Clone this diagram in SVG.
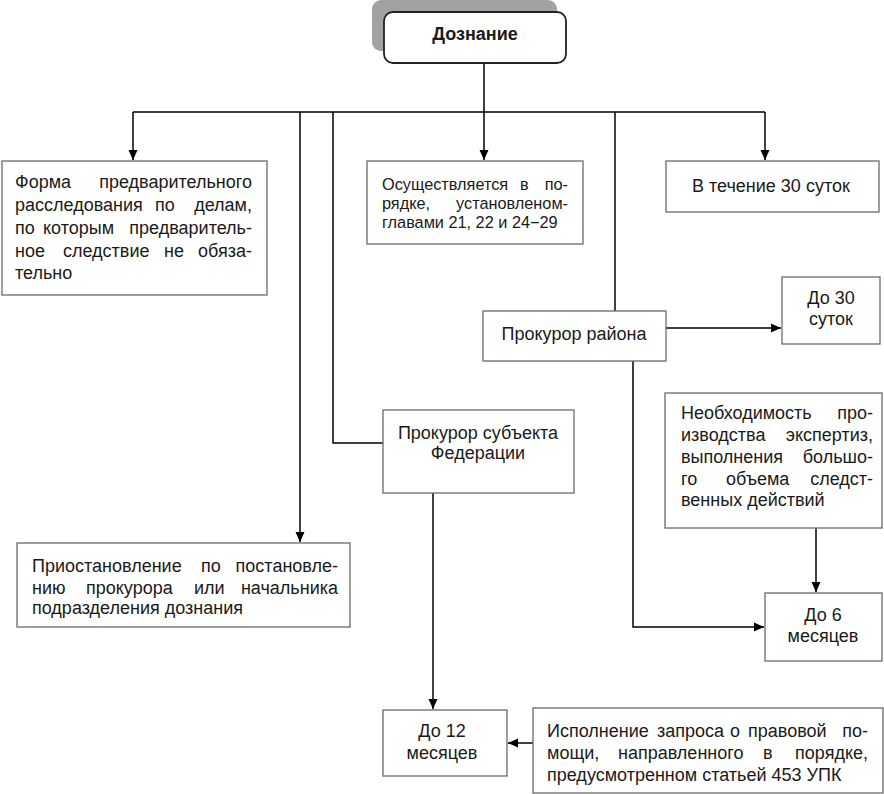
<svg xmlns="http://www.w3.org/2000/svg" width="884" height="794" viewBox="0 0 884 794">
<defs>
<marker id="ah" viewBox="0 0 10 10" refX="10" refY="5" markerWidth="10" markerHeight="10" markerUnits="userSpaceOnUse" orient="auto">
<path d="M0,0.5 L10,5 L0,9.5 Z" fill="#000"/>
</marker>
<style>
.box{fill:#fff;stroke:#6a6a6a;stroke-width:1.3}
.t{font-family:"Liberation Sans",Arial,sans-serif;font-size:18px;fill:#1a1a1a}
.s{font-size:16.3px}
.c{text-anchor:middle}
.e{text-anchor:end}
.ln{fill:none;stroke:#000;stroke-width:1.5}
.ar{marker-end:url(#ah)}
</style>
</defs>
<rect width="884" height="794" fill="#fff"/>
<g id="connectors">
<path class="ln" d="M484,63 V112"/>
<path class="ln" d="M133,112 H765"/>
<path class="ln ar" d="M133,112 V160"/>
<path class="ln ar" d="M484,112 V160"/>
<path class="ln ar" d="M765,112 V160"/>
<path class="ln ar" d="M300,112 V542"/>
<path class="ln" d="M333,112 V443 H383"/>
<path class="ln" d="M615,112 V311"/>
<path class="ln ar" d="M666,328 H781"/>
<path class="ln ar" d="M633,361 V627 H764"/>
<path class="ln ar" d="M816,528 V592"/>
<path class="ln ar" d="M433,493 V709"/>
<path class="ln ar" d="M533,743 H508"/>
</g>
<g id="n-doznanie">
<rect x="372" y="0" width="185" height="51" rx="9" fill="#a2a2a2"/>
<rect x="384" y="12" width="182" height="51" rx="9" fill="#fff" stroke="#222" stroke-width="1.8"/>
<text class="t c" x="475" y="40" font-weight="bold" font-size="19.5">Дознание</text>
</g>
<g id="n-forma">
<rect class="box" x="2" y="161" width="265" height="134"/>
<text class="t" y="188"><tspan x="15">Форма</tspan> <tspan class="e" x="252">предварительного</tspan></text>
<text class="t" y="211"><tspan x="15">расследования</tspan> <tspan x="155">по</tspan> <tspan class="e" x="252">делам,</tspan></text>
<text class="t" y="234"><tspan x="15">по</tspan> <tspan x="43">которым</tspan> <tspan class="e" x="252">предваритель-</tspan></text>
<text class="t" y="257"><tspan x="15">ное</tspan> <tspan x="63">следствие</tspan> <tspan x="164">не</tspan> <tspan class="e" x="252">обяза-</tspan></text>
<text class="t" x="15" y="279">тельно</text>
</g>
<g id="n-osush">
<rect class="box" x="367" y="161" width="216" height="83"/>
<text class="t s" y="190"><tspan x="382">Осуществляется</tspan> <tspan x="520">в</tspan> <tspan class="e" x="568">по-</tspan></text>
<text class="t s" y="209"><tspan x="382">рядке,</tspan> <tspan class="e" x="568">установленом-</tspan></text>
<text class="t s" x="382" y="228">главами 21, 22 и 24−29</text>
</g>
<g id="n-30sutok">
<rect class="box" x="666" y="161" width="213" height="51"/>
<text class="t" x="692" y="192">В течение 30 суток</text>
</g>
<g id="n-prok-rayona">
<rect class="box" x="483" y="311" width="183" height="50"/>
<text class="t c" x="574" y="340">Прокурор района</text>
</g>
<g id="n-do30">
<rect class="box" x="782" y="277" width="98" height="67"/>
<text class="t c" x="831" y="304">До 30</text>
<text class="t c" x="831" y="325">суток</text>
</g>
<g id="n-neobh">
<rect class="box" x="665" y="393" width="217" height="135"/>
<text class="t" y="419"><tspan x="681">Необходимость</tspan> <tspan class="e" x="873">про-</tspan></text>
<text class="t" y="441"><tspan x="681">изводства</tspan> <tspan class="e" x="873">экспертиз,</tspan></text>
<text class="t" y="463"><tspan x="681">выполнения</tspan> <tspan class="e" x="873">большо-</tspan></text>
<text class="t" y="485"><tspan x="681">го</tspan> <tspan x="726">объема</tspan> <tspan class="e" x="873">следст-</tspan></text>
<text class="t" x="681" y="506">венных действий</text>
</g>
<g id="n-do6">
<rect class="box" x="765" y="593" width="117" height="68"/>
<text class="t c" x="823" y="621">До 6</text>
<text class="t c" x="823" y="642">месяцев</text>
</g>
<g id="n-prok-subj">
<rect class="box" x="383" y="410" width="191" height="83"/>
<text class="t c" x="478" y="439">Прокурор субъекта</text>
<text class="t c" x="478" y="459">Федерации</text>
</g>
<g id="n-priost">
<rect class="box" x="17" y="543" width="333" height="84"/>
<text class="t" y="572"><tspan x="32">Приостановление</tspan> <tspan x="201">по</tspan> <tspan class="e" x="338">постановле-</tspan></text>
<text class="t" y="594"><tspan x="32">нию</tspan> <tspan x="86">прокурора</tspan> <tspan x="194">или</tspan> <tspan class="e" x="338">начальника</tspan></text>
<text class="t" x="32" y="614">подразделения дознания</text>
</g>
<g id="n-do12">
<rect class="box" x="383" y="710" width="124" height="66"/>
<text class="t c" x="442" y="737">До 12</text>
<text class="t c" x="442" y="759">месяцев</text>
</g>
<g id="n-ispoln">
<rect class="box" x="533" y="708" width="350" height="85"/>
<text class="t" y="737"><tspan x="547">Исполнение</tspan> <tspan x="657">запроса</tspan> <tspan x="730">о</tspan> <tspan x="748">правовой</tspan> <tspan class="e" x="868">по-</tspan></text>
<text class="t" y="759"><tspan x="547">мощи,</tspan> <tspan x="618">направленного</tspan> <tspan x="763">в</tspan> <tspan class="e" x="868">порядке,</tspan></text>
<text class="t" x="547" y="781">предусмотренном статьей 453 УПК</text>
</g>
</svg>
